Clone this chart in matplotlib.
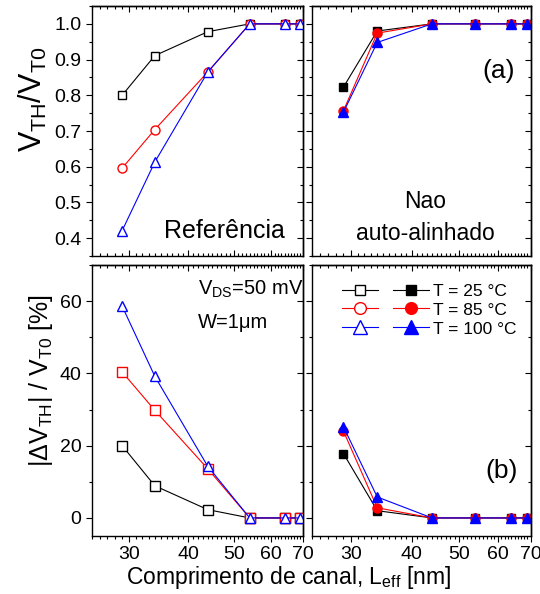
import matplotlib.pyplot as plt
from matplotlib.ticker import MultipleLocator, NullFormatter, FormatStrFormatter

plt.rcParams['font.family'] = ['Liberation Sans', 'DejaVu Sans']
plt.rcParams['mathtext.fontset'] = 'custom'
plt.rcParams['mathtext.rm'] = 'Liberation Sans'
plt.rcParams['mathtext.it'] = 'Liberation Sans:italic'
plt.rcParams['mathtext.bf'] = 'Liberation Sans:bold'

# effective channel length [nm]
leff = [29, 34, 44, 54, 64, 69]

# V_TH / V_T0, reference device (open symbols)
ref_ratio_25 = [0.80, 0.911, 0.978, 1.0, 1.0, 1.0]
ref_ratio_85 = [0.596, 0.704, 0.865, 1.0, 1.0, 1.0]
ref_ratio_100 = [0.421, 0.613, 0.865, 1.0, 1.0, 1.0]

# V_TH / V_T0, non self-aligned device (filled symbols)
nsa_ratio_25 = [0.823, 0.980, 1.0, 1.0, 1.0, 1.0]
nsa_ratio_85 = [0.757, 0.974, 1.0, 1.0, 1.0, 1.0]
nsa_ratio_100 = [0.753, 0.948, 1.0, 1.0, 1.0, 1.0]

# |dV_TH| / V_T0 [%]
ref_shift_25 = [20.0, 8.9, 2.3, 0, 0, 0]
ref_shift_85 = [40.4, 29.8, 13.6, 0, 0, 0]
ref_shift_100 = [58.6, 39.2, 14.3, 0, 0, 0]
nsa_shift_25 = [17.8, 2.0, 0, 0, 0, 0]
nsa_shift_85 = [24.0, 2.8, 0, 0, 0, 0]
nsa_shift_100 = [25.2, 5.8, 0, 0, 0, 0]

temp_labels = ['T = 25 °C', 'T = 85 °C', 'T = 100 °C']
colors = ['black', 'red', 'blue']

x_major = [30, 40, 50, 60, 70]
x_minor = [v for v in range(25, 71) if v not in x_major]

fig = plt.figure(figsize=(5.4, 5.94), dpi=100)
W, H = 540.0, 594.0


def box(x0, x1, y0, y1):
    return [x0 / W, 1 - y1 / H, (x1 - x0) / W, (y1 - y0) / H]


ax_tl = fig.add_axes(box(91.7, 303, 6, 256))
ax_tr = fig.add_axes(box(312, 530.5, 6, 256))
ax_bl = fig.add_axes(box(91.7, 303, 265, 536))
ax_br = fig.add_axes(box(312, 530.5, 265, 536))


def dress(ax, top_row, show_ylabels):
    ax.set_xscale('log')
    ax.set_xlim(25, 70)
    ax.set_xticks(x_major, labels=[str(v) for v in x_major])
    ax.set_xticks(x_minor, minor=True)
    ax.xaxis.set_minor_formatter(NullFormatter())
    if top_row:
        ax.set_ylim(0.35, 1.05)
        ymaj, ymin = 0.1, 0.05
        ax.yaxis.set_major_formatter(FormatStrFormatter('%.1f'))
    else:
        ax.set_ylim(-5, 70)
        ymaj, ymin = 20, 10
    ax.yaxis.set_major_locator(MultipleLocator(ymaj))
    ax.yaxis.set_minor_locator(MultipleLocator(ymin))
    ax.tick_params(axis='x', which='both', direction='in' if top_row else 'out',
                   labelbottom=not top_row, labelsize=14, width=0.8, pad=3)
    ax.tick_params(axis='y', which='both', direction='out', labelleft=show_ylabels,
                   labelsize=14, width=0.8, pad=3)
    ax.tick_params(which='major', length=4.5)
    ax.tick_params(which='minor', length=2.5)

    top = ax.secondary_xaxis('top')
    top.set_xticks(x_major)
    top.set_xticks(x_minor, minor=True)
    top.xaxis.set_minor_formatter(NullFormatter())
    top.tick_params(which='both', direction='in', labeltop=False, width=0.8)
    top.tick_params(which='major', length=4.5)
    top.tick_params(which='minor', length=2.5)

    right = ax.secondary_yaxis('right')
    right.yaxis.set_major_locator(MultipleLocator(ymaj))
    right.yaxis.set_minor_locator(MultipleLocator(ymin))
    right.tick_params(which='both', direction='in', labelright=False, width=0.8)
    right.tick_params(which='major', length=4.5)
    right.tick_params(which='minor', length=2.5)
    for s in list(ax.spines.values()) + list(top.spines.values()) + list(right.spines.values()):
        s.set_linewidth(1.0)


for ax, top_row, lab in [(ax_tl, True, True), (ax_tr, True, False),
                         (ax_bl, False, True), (ax_br, False, False)]:
    dress(ax, top_row, lab)

open_marks = ['s', 'o', '^']
sizes = [6, 6.5, 7.5]

# reference device, open symbols
for y, c, m, ms in zip([ref_ratio_25, ref_ratio_85, ref_ratio_100], colors, open_marks, sizes):
    ax_tl.plot(leff, y, color=c, lw=0.8, marker=m, ms=ms, mfc='white', mec=c, mew=1.0)
for y, c, m, ms in zip([ref_shift_25, ref_shift_85, ref_shift_100], colors, ['s', 's', '^'], [7, 7, 7.5]):
    ax_bl.plot(leff, y, color=c, lw=0.8, marker=m, ms=ms, mfc='white', mec=c, mew=1.0)

# non self-aligned device, filled symbols
for y, c, m, ms in zip([nsa_ratio_25, nsa_ratio_85, nsa_ratio_100], colors, open_marks, sizes):
    ax_tr.plot(leff, y, color=c, lw=0.8, marker=m, ms=ms, mfc=c, mec=c)
for y, c, m, ms in zip([nsa_shift_25, nsa_shift_85, nsa_shift_100], colors, open_marks, sizes):
    ax_br.plot(leff, y, color=c, lw=0.8, marker=m, ms=ms, mfc=c, mec=c)

# legend: open column without text, filled column with temperatures
h_open = [plt.Line2D([], [], color=c, lw=0.8, marker=m, ms=ms, mfc='white', mec=c, mew=1.0)
          for c, m, ms in zip(colors, open_marks, sizes)]
h_fill = [plt.Line2D([], [], color=c, lw=0.8, marker=m, ms=ms, mfc=c, mec=c)
          for c, m, ms in zip(colors, open_marks, sizes)]
ax_br.legend(h_open + h_fill, ['', '', ''] + temp_labels, ncol=2, loc='upper left',
             bbox_to_anchor=(0.136, 0.932), frameon=False, fontsize=12.5,
             handlelength=2.1, handletextpad=0.2, columnspacing=0.63,
             labelspacing=0.22, borderpad=0, borderaxespad=0, markerscale=1.3)

ax_tl.text(0.915, 0.073, 'Referência', transform=ax_tl.transAxes,
           ha='right', va='baseline', fontsize=18)
ax_tr.text(0.517, 0.191, 'Nao', transform=ax_tr.transAxes,
           ha='center', va='baseline', fontsize=16.5)
ax_tr.text(0.517, 0.064, 'auto-alinhado', transform=ax_tr.transAxes,
           ha='center', va='baseline', fontsize=16.5)
ax_tr.text(0.928, 0.712, '(a)', transform=ax_tr.transAxes,
           ha='right', va='baseline', fontsize=19)
ax_br.text(0.942, 0.214, '(b)', transform=ax_br.transAxes,
           ha='right', va='baseline', fontsize=19)
ax_bl.text(0.503, 0.889, r'V$_{\mathrm{DS}}$=50 mV', transform=ax_bl.transAxes,
           ha='left', va='baseline', fontsize=14.5)
ax_bl.text(0.503, 0.766, 'W=1μm', transform=ax_bl.transAxes,
           ha='left', va='baseline', fontsize=14.5)

fig.text(0.061, 0.832, r'V$_{\mathrm{TH}}$/V$_{\mathrm{T0}}$', rotation=90,
         ha='center', va='center', fontsize=22)
fig.text(0.076, 0.360, r'|ΔV$_{\mathrm{TH}}$| / V$_{\mathrm{T0}}$ [%]', rotation=90,
         ha='center', va='center', fontsize=18)
fig.text(0.535, 1 - 584 / H, r'Comprimento de canal, L$_{\mathrm{eff}}$ [nm]',
         ha='center', va='baseline', fontsize=16.5)

fig.savefig('out.png', dpi=100)
